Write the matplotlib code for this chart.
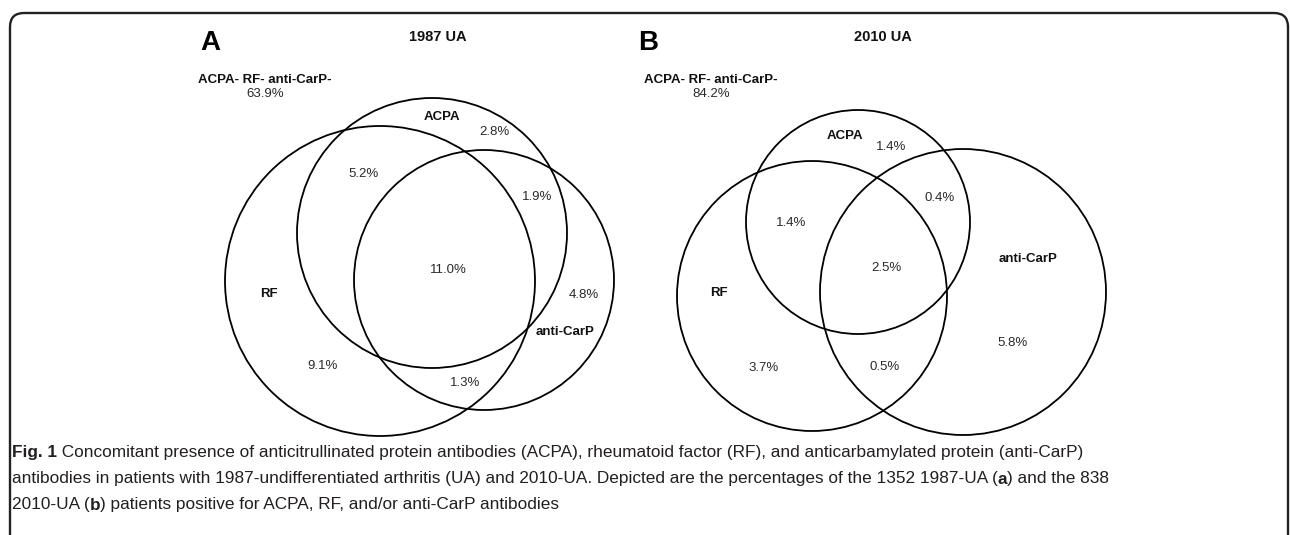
import matplotlib
matplotlib.use("Agg")
import matplotlib.pyplot as plt
from matplotlib.patches import Circle, FancyBboxPatch
from matplotlib import font_manager

# data
sets = ["ACPA", "RF", "anti-CarP"]
cohorts = ["1987 UA", "2010 UA"]
letters = ["A", "B"]
none_label = "ACPA- RF- anti-CarP-"
# region order: ACPA only, RF only, anti-CarP only, ACPA+RF, ACPA+anti-CarP,
# RF+anti-CarP, all three, none
pct_1987 = [2.8, 9.1, 4.8, 5.2, 1.9, 1.3, 11.0, 63.9]
pct_2010 = [1.4, 3.7, 5.8, 1.4, 0.4, 0.5, 2.5, 84.2]
pcts = [pct_1987, pct_2010]

# layout in pixels (x, y from top-left)
circles = [
    [(432, 233, 135), (380, 281, 155), (484, 280, 130)],
    [(858, 222, 112), (812, 296, 135), (963, 292, 143)],
]
set_pos = [
    [(442, 117), (269, 294), (565, 332)],
    [(845, 136), (719, 293), (1028, 259)],
]
pct_pos = [
    [(494, 132), (323, 366), (584, 295), (364, 174), (537, 197), (465, 383), (448, 270), (265, 94)],
    [(891, 147), (764, 368), (1013, 343), (791, 223), (940, 198), (885, 367), (886, 268), (711, 94)],
]
letter_pos = [(210, 43), (648, 43)]
title_pos = [(438, 37), (883, 37)]
none_pos = [(265, 80), (711, 80)]

caption = [
    [("Fig. 1", "bold"),
     (" Concomitant presence of anticitrullinated protein antibodies (ACPA), rheumatoid factor (RF), "
      "and anticarbamylated protein (anti-CarP)", "normal")],
    [("antibodies in patients with 1987-undifferentiated arthritis (UA) and 2010-UA. Depicted are the "
      "percentages of the 1352 1987-UA (", "normal"), ("a", "bold"), (") and the 838", "normal")],
    [("2010-UA (", "normal"), ("b", "bold"), (") patients positive for ACPA, RF, and/or anti-CarP antibodies", "normal")],
]
caption_y = [453, 479, 505]
caption_widths = [1051, 1221, 443]  # measured line widths in the reference

font = "Liberation Sans"
names = {f.name for f in font_manager.fontManager.ttflist}
cap_font = "Liberation Sans Narrow" if "Liberation Sans Narrow" in names else font

fig = plt.figure(figsize=(12.9, 5.35), dpi=100)
ax = fig.add_axes([0, 0, 1, 1])
ax.set_xlim(0, 1290)
ax.set_ylim(535, 0)
ax.axis("off")

# frame
ax.add_patch(FancyBboxPatch((10, 13), 1278, 560, boxstyle="round,pad=0,rounding_size=14",
                            fill=False, lw=1.7, ec="#222222", clip_on=True))

for p in range(2):
    for (cx, cy, r) in circles[p]:
        ax.add_patch(Circle((cx, cy), r, fill=False, lw=1.3, ec="black"))
    for name, (x, y) in zip(sets, set_pos[p]):
        ax.text(x, y, name, ha="center", va="center", fontsize=9.5, fontweight="bold",
                family=font, color="#111111")
    for v, (x, y) in zip(pcts[p], pct_pos[p]):
        ax.text(x, y, f"{v:.1f}%", ha="center", va="center", fontsize=9.5,
                family=font, color="#2a2a2a")
    x, y = none_pos[p]
    ax.text(x, y, none_label, ha="center", va="center", fontsize=9.5, fontweight="bold",
            family=font, color="#111111")
    x, y = letter_pos[p]
    ax.text(x, y, letters[p], ha="center", va="center", fontsize=20, fontweight="bold",
            family=font, color="black")
    x, y = title_pos[p]
    ax.text(x, y, cohorts[p], ha="center", va="center", fontsize=10.5, fontweight="bold",
            family=font, color="#111111")

# caption: one font size, fitted so the three lines together take the reference width
probes = [ax.text(0, 0, "".join(s for s, _ in segs), fontsize=10, family=cap_font) for segs in caption]
fig.canvas.draw()
w = sum(t.get_window_extent().width for t in probes)
for t in probes:
    t.remove()
cap_size = 10 * sum(caption_widths) / w

for segs, y in zip(caption, caption_y):
    prev = None
    for s, wgt in segs:
        if prev is None:
            prev = ax.text(12, y, s, ha="left", va="center", fontsize=cap_size,
                           fontweight=wgt, family=cap_font, color="#231f20")
        else:
            prev = ax.annotate(s, xy=(1, 0), xycoords=prev, ha="left", va="bottom",
                               fontsize=cap_size, fontweight=wgt, family=cap_font,
                               color="#231f20")

fig.savefig("out.png", dpi=100)
